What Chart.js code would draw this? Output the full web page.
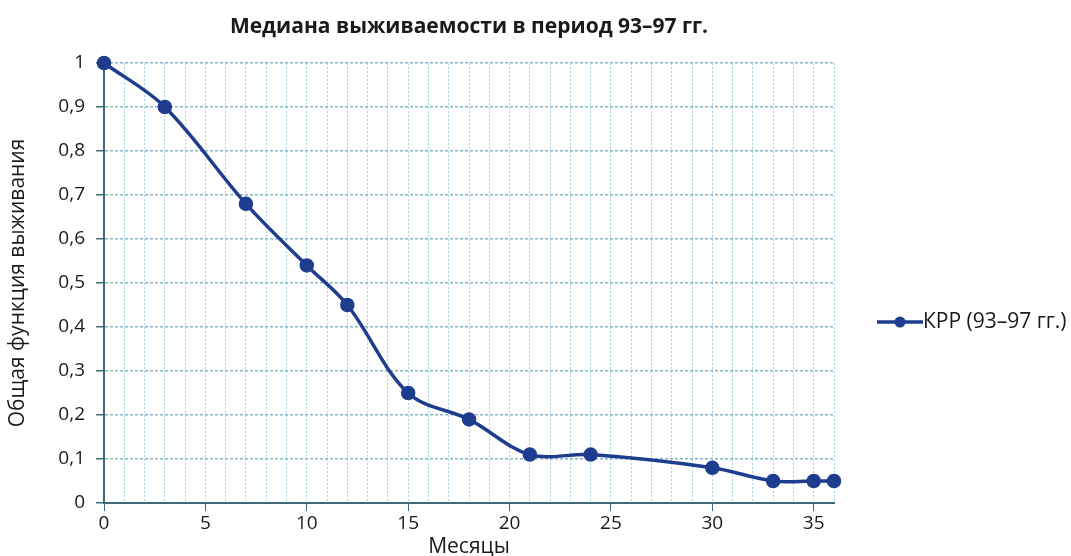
<!DOCTYPE html>
<html>
<head>
<meta charset="utf-8">
<script src="https://cdn.jsdelivr.net/npm/chart.js@4.4.1/dist/chart.umd.min.js"></script>
<style>
  body { margin: 0; background: #fff; }
  #wrap { width: 1071px; height: 556px; position: relative; }
</style>
</head>
<body>
<div id="wrap"><canvas id="survChart"></canvas></div>
<script>
// data
const months = [0, 3, 7, 10, 12, 15, 18, 21, 24, 30, 33, 35, 36];
const survival = [1, 0.9, 0.68, 0.54, 0.45, 0.25, 0.19, 0.11, 0.11, 0.08, 0.05, 0.05, 0.05];
const yTickLabels = ['0', '0,1', '0,2', '0,3', '0,4', '0,5', '0,6', '0,7', '0,8', '0,9', '1'];
const seriesName = 'КРР (93–97 гг.)';
const chartTitle = 'Медиана выживаемости в период 93–97 гг.';

const lineColor = '#1f3d8f';
const axisColor = '#3f6a78';

// legend marker: short line with a dot, like the original
const marker = document.createElement('canvas');
marker.width = 59;
marker.height = 14;
const mctx = marker.getContext('2d');
mctx.strokeStyle = lineColor;
mctx.lineWidth = 3.5;
mctx.beginPath();
mctx.moveTo(13, 7);
mctx.lineTo(59, 7);
mctx.stroke();
mctx.fillStyle = lineColor;
mctx.beginPath();
mctx.arc(36, 7, 5.5, 0, Math.PI * 2);
mctx.fill();

document.addEventListener('DOMContentLoaded', function() {
  const font = "'Open Sans', sans-serif";

  var chart = new Chart(document.getElementById('survChart'), {
    type: 'line',
    data: {
      datasets: [{
        label: seriesName,
        data: months.map((m, i) => ({ x: m, y: survival[i] })),
        borderColor: lineColor,
        backgroundColor: lineColor,
        borderWidth: 3.5,
        pointRadius: 5.5,
        pointBackgroundColor: lineColor,
        pointBorderColor: lineColor,
        tension: 0.35,
        clip: false,
        fill: false
      }]
    },
    options: {
      responsive: true,
      maintainAspectRatio: false,
      animation: false,
      layout: { padding: { left: 0, right: 0, top: 0, bottom: 0 } },
      plugins: {
        title: {
          display: true,
          text: chartTitle,
          fullSize: false,
          color: '#1a1a1a',
          font: { family: font, size: 21, weight: 'bold', lineHeight: 1.2 },
          padding: { top: 14.4, bottom: 23.4 }
        },
        legend: {
          position: 'right',
          align: 'center',
          maxWidth: 237,
          title: { display: true, text: '', font: { size: 12, lineHeight: 1.2 }, padding: { top: 73.6, bottom: 0 } },
          labels: {
            usePointStyle: true,
            pointStyle: marker,
            pointStyleWidth: 38,
            padding: 40.5,
            color: '#1a1a1a',
            font: { family: font, size: 21 }
          }
        },
        tooltip: { enabled: false }
      },
      scales: {
        x: {
          type: 'linear',
          min: 0,
          max: 36,
          afterFit: function(scale) { scale.height = 53; },
          ticks: {
            stepSize: 1,
            autoSkip: false,
            maxRotation: 0,
            padding: 1,
            color: '#1a1a1a',
            font: { family: font, size: 19 },
            callback: v => (v % 5 === 0 ? String(v) : '')
          },
          grid: {
            color: '#a9d2ea',
            lineWidth: 1,
            tickLength: 8,
            tickColor: ctx => (ctx.tick && ctx.tick.value % 5 === 0 ? axisColor : 'rgba(0,0,0,0)')
          },
          border: { display: true, color: axisColor, width: 2, dash: [2, 2] },
          title: {
            display: true,
            text: 'Месяцы',
            color: '#1a1a1a',
            font: { family: font, size: 21, lineHeight: 1 },
            padding: { top: 2, bottom: -2 }
          }
        },
        y: {
          min: 0,
          max: 1,
          afterFit: function(scale) { scale.width = 104; },
          ticks: {
            stepSize: 0.1,
            padding: 11,
            color: '#1a1a1a',
            font: { family: font, size: 19 },
            callback: (v, i) => yTickLabels[i]
          },
          grid: {
            color: '#86b2c6',
            lineWidth: 1.5,
            tickLength: 8,
            tickColor: axisColor
          },
          border: { display: true, color: axisColor, width: 2, dash: [3, 2] },
          title: {
            display: true,
            text: 'Общая функция выживания',
            color: '#1a1a1a',
            font: { family: font, size: 21, lineHeight: 1.2 },
            padding: { top: 5.4, bottom: 0 }
          }
        }
      }
    }
  });
});
</script>
</body>
</html>
